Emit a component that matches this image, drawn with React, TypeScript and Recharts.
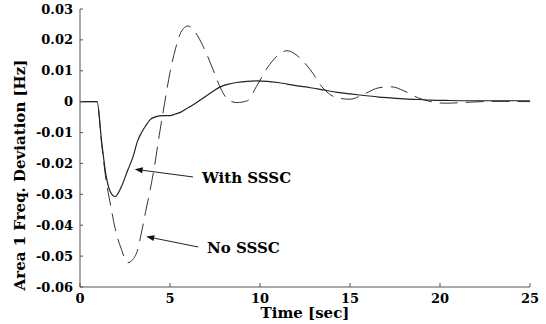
import React from 'react';
import { LineChart, Line, XAxis, YAxis, ReferenceLine } from 'recharts';

const time = [0, 0.95, 1.2, 1.45, 1.7, 1.95, 2.3, 2.65, 2.95, 3.2, 3.4, 3.65, 3.9, 4.15, 4.4, 4.7, 5.0, 5.3, 5.6, 6.0, 6.4, 6.85, 7.4, 7.8, 8.2, 8.7, 9.3, 9.8, 10.4, 11.0, 11.5, 12.0, 12.8, 13.5, 14.3, 15.0, 15.8, 16.6, 17.3, 18.0, 18.8, 19.5, 20.3, 21.5, 23, 25];

const withSSSC = [0, 0, -0.0128, -0.024, -0.0293, -0.0307, -0.0275, -0.0222, -0.0178, -0.0127, -0.0102, -0.0078, -0.0058, -0.005, -0.0046, -0.0045, -0.0045, -0.004, -0.0034, -0.002, -0.0006, 0.0012, 0.0034, 0.0048, 0.0056, 0.0062, 0.0066, 0.0067, 0.0066, 0.0062, 0.0057, 0.0052, 0.0045, 0.0038, 0.003, 0.0025, 0.002, 0.0015, 0.0012, 0.0009, 0.0007, 0.0005, 0.0004, 0.0003, 0.0003, 0.0003];

const noSSSC = [0, 0, -0.0135, -0.0255, -0.0335, -0.041, -0.0478, -0.0521, -0.051, -0.048, -0.0428, -0.0355, -0.0285, -0.0205, -0.011, -0.0005, 0.0095, 0.017, 0.0224, 0.0245, 0.0225, 0.0178, 0.0103, 0.0045, 0.0008, -0.0003, 0.0003, 0.0049, 0.0109, 0.015, 0.0165, 0.0152, 0.0103, 0.0044, 0.0012, 0.0008, 0.0025, 0.0045, 0.0048, 0.0035, 0.0012, 0.0, -0.0005, -0.0002, 0.0001, 0.0];

const xTicks = [0, 5, 10, 15, 20, 25];
const yTicks = [-0.06, -0.05, -0.04, -0.03, -0.02, -0.01, 0, 0.01, 0.02, 0.03];
const yTickLabels = ['-0.06', '-0.05', '-0.04', '-0.03', '-0.02', '-0.01', '0', '0.01', '0.02', '0.03'];

const annotations = [
  { text: 'With SSSC', tail: [6.28, -0.02438], head: [3.04, -0.02188] },
  { text: 'No SSSC', tail: [6.56, -0.04704], head: [3.68, -0.04367] },
];

const data = time.map((t, i) => ({ t, w: withSSSC[i], n: noSSSC[i] }));

const FONT = '"DejaVu Serif", serif';

const XTick = (p: any) => (
  <text x={p.x} y={p.y} dy={9} textAnchor="middle" fontFamily={FONT} fontSize={13} fontWeight="bold" fill="#000">
    {String(p.payload.value)}
  </text>
);

const YTick = (p: any) => {
  const i = yTicks.findIndex((y) => Math.abs(y - p.payload.value) < 1e-9);
  return (
    <text x={p.x} y={p.y} dy={4.5} textAnchor="end" fontFamily={FONT} fontSize={13} fontWeight="bold" fill="#000">
      {i >= 0 ? yTickLabels[i] : String(p.payload.value)}
    </text>
  );
};

const makeArrow = (text: string) => (props: any) => {
  const { x1, y1, x2, y2 } = props;
  const dx = x2 - x1;
  const dy = y2 - y1;
  const len = Math.sqrt(dx * dx + dy * dy) || 1;
  const ux = dx / len;
  const uy = dy / len;
  const hl = 8;
  const hw = 3;
  const bx = x2 - ux * hl;
  const by = y2 - uy * hl;
  const p1 = `${x2},${y2}`;
  const p2 = `${bx - uy * hw},${by + ux * hw}`;
  const p3 = `${bx + uy * hw},${by - ux * hw}`;
  return (
    <g>
      <line x1={x1} y1={y1} x2={bx} y2={by} stroke="#222" strokeWidth={1} />
      <polygon points={`${p1} ${p2} ${p3}`} fill="#111" />
      <text x={x1 + 9} y={y1 + 1} dominantBaseline="central" fontFamily={FONT} fontSize={15} fontWeight={700} fill="#000">
        {text}
      </text>
    </g>
  );
};

export default function App() {
  return (
    <div style={{ position: 'absolute', left: 0, top: 0, background: '#fff' }}>
      <LineChart width={546} height={324} data={data} margin={{ top: 9, right: 16, bottom: 0, left: 0 }}>
        <XAxis
          xAxisId="b"
          dataKey="t"
          type="number"
          domain={[0, 25]}
          ticks={xTicks}
          height={37}
          tickSize={-4}
          tickMargin={11}
          tick={<XTick />}
          axisLine={{ stroke: '#555' }}
          tickLine={{ stroke: '#555' }}
          interval={0}
          label={{
            content: (p: any) => {
              const vb = p.viewBox || {};
              return (
                <text x={vb.x + vb.width / 2} y={vb.y + 31} textAnchor="middle" fontFamily={FONT} fontSize={15} fontWeight={700} fill="#000">
                  Time [sec]
                </text>
              );
            },
          }}
        />
        <XAxis
          xAxisId="t"
          orientation="top"
          dataKey="t"
          type="number"
          domain={[0, 25]}
          ticks={xTicks}
          height={0}
          tickSize={-4}
          tickFormatter={() => ''}
          axisLine={{ stroke: '#666' }}
          tickLine={{ stroke: '#666' }}
        />
        <YAxis
          yAxisId="l"
          type="number"
          domain={[-0.06, 0.03]}
          ticks={yTicks}
          width={80}
          tickSize={-3}
          tickMargin={10}
          interval={0}
          tick={<YTick />}
          axisLine={{ stroke: '#555' }}
          tickLine={{ stroke: '#555' }}
          label={{
            content: () => (
              <text x={20} y={175} transform="rotate(-90 20 175)" textAnchor="middle" dominantBaseline="central" fontFamily={FONT} fontSize={15} fontWeight={700} fill="#000">
                Area 1 Freq. Deviation [Hz]
              </text>
            ),
          }}
        />
        <YAxis
          yAxisId="r"
          orientation="right"
          type="number"
          domain={[-0.06, 0.03]}
          ticks={yTicks}
          width={0}
          tickSize={-3}
          tickFormatter={() => ''}
          axisLine={{ stroke: '#666' }}
          tickLine={{ stroke: '#666' }}
        />
        <Line xAxisId="b" yAxisId="l" type="monotone" dataKey="n" stroke="#333" strokeWidth={1} strokeDasharray="18 8" dot={false} isAnimationActive={false} />
        <Line xAxisId="b" yAxisId="l" type="monotone" dataKey="w" stroke="#222" strokeWidth={1.2} dot={false} isAnimationActive={false} />
        {annotations.map((a) => (
          <ReferenceLine
            key={a.text}
            xAxisId="b"
            yAxisId="l"
            segment={[{ x: a.tail[0], y: a.tail[1] }, { x: a.head[0], y: a.head[1] }]}
            shape={makeArrow(a.text)}
            ifOverflow="visible"
          />
        ))}
      </LineChart>
    </div>
  );
}
